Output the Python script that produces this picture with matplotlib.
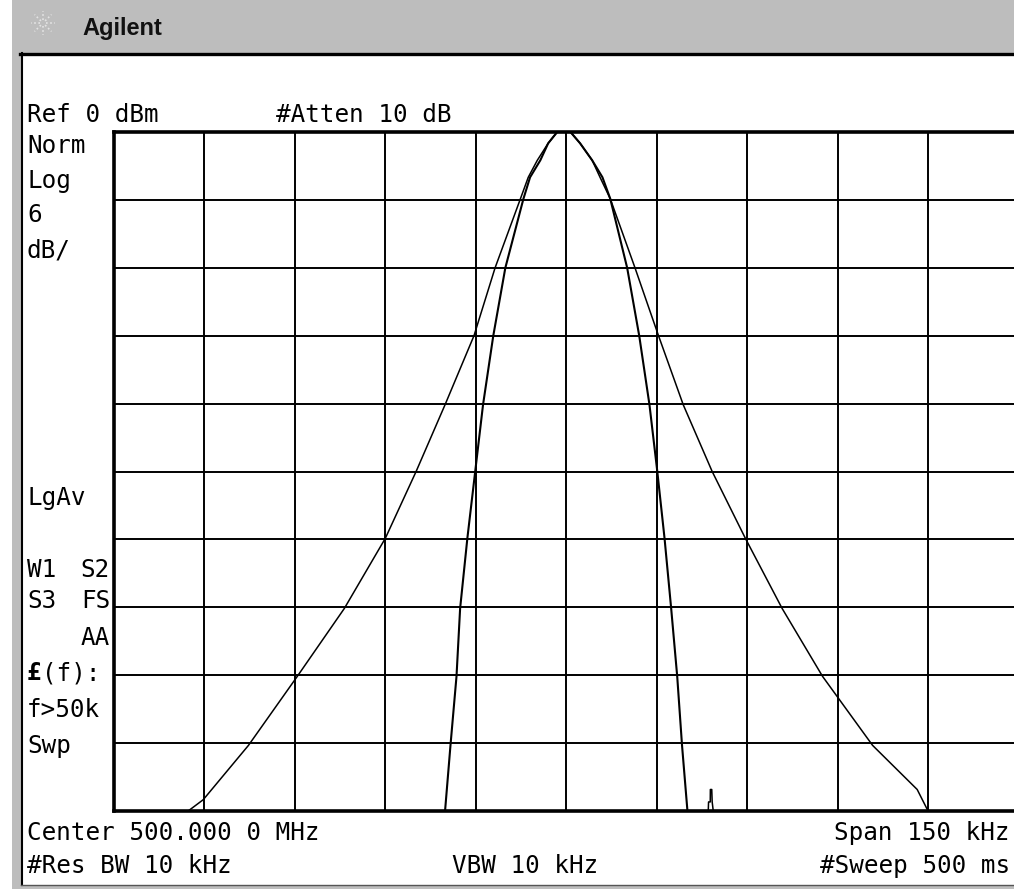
import numpy as np
import matplotlib.pyplot as plt
from matplotlib.patches import Rectangle
from matplotlib.lines import Line2D

# screen size of the capture, in pixels
W, H = 1014, 892

# analyzer settings
ref_dbm = 0
db_per_div = 6
span_khz = 150
n_div = 10

# wide trace: offset from center (kHz) and level (dB)
wide_khz = [-62.7, -60.2, -52.7, -44.6, -36.8, -30.0, -24.9, -20.1, -15.3, -11.8,
            -7.6, -6.3, -4.8, -3.0, -1.5, 0.7, 2.3, 4.3, 5.6, 7.3, 11.4, 13.8,
            15.3, 19.4, 24.2, 29.7, 35.8, 42.5, 50.8, 58.2, 60.0]
wide_db = [-60.0, -59.0, -54.2, -48.1, -42.1, -35.9, -30.0, -24.1, -18.0, -12.0,
           -5.9, -4.0, -2.5, -1.0, 0.0, 0.0, -1.0, -2.5, -4.0, -5.9, -12.0, -15.7,
           -18.0, -24.1, -30.0, -35.9, -42.1, -48.1, -54.2, -58.1, -60.0]

# narrow trace
narrow_khz = [-20.1, -19.2, -18.2, -17.6, -16.4, -15.1, -13.8, -12.1, -10.1, -7.1,
              -6.0, -4.3, -3.0, -1.5, 0.7, 2.3, 4.3, 6.0, 7.3, 10.1, 12.1, 13.8,
              15.1, 16.3, 17.4, 18.4, 19.2, 20.1]
narrow_db = [-60.0, -54.2, -48.1, -42.1, -35.9, -30.0, -24.1, -18.0, -12.0, -5.9,
             -4.0, -2.5, -1.0, 0.0, 0.0, -1.0, -2.5, -4.0, -5.9, -12.0, -18.0, -24.1,
             -30.0, -35.9, -42.1, -48.1, -54.2, -60.0]

# small spur right of the narrow trace
spur_khz = [23.55, 23.6, 23.88, 23.9, 24.13, 24.2, 24.38]
spur_db = [-60.0, -59.2, -59.2, -58.1, -58.1, -59.2, -60.0]

MONO = 'DejaVu Sans Mono'
FS = 17.5


def fx(x):
    return x / W


def fy(y):
    return 1 - y / H


def screen_text(x, y, s, ha='left', **kw):
    fig.text(fx(x), fy(y), s, ha=ha, va='baseline', family=MONO,
             fontsize=kw.pop('fontsize', FS), color='black', **kw)


fig = plt.figure(figsize=(W / 100, H / 100), dpi=100)
fig.patch.set_facecolor('white')

# gray window frame and title bar
fig.add_artist(Rectangle((fx(12), fy(889)), fx(W - 12), 889 / H,
                         transform=fig.transFigure, facecolor='#bdbdbd', edgecolor='none', zorder=0))
fig.add_artist(Rectangle((fx(21), fy(885)), fx(W - 21), (885 - 53) / H,
                         transform=fig.transFigure, facecolor='white', edgecolor='none', zorder=0))
fig.add_artist(Line2D([fx(20), fx(W)], [fy(53.5), fy(53.5)], transform=fig.transFigure,
                      color='black', lw=2.4))
fig.add_artist(Line2D([fx(21.5), fx(21.5)], [fy(53), fy(885)], transform=fig.transFigure,
                      color='black', lw=1.5))
fig.add_artist(Line2D([fx(21), fx(W)], [fy(885), fy(885)], transform=fig.transFigure,
                      color='#555555', lw=1.0))

# logo: faint starburst
cx, cy, r = 43, 23, 12
for a in np.arange(0, 360, 45):
    t = np.deg2rad(a)
    fig.add_artist(Line2D([fx(cx + 3 * np.cos(t)), fx(cx + r * np.cos(t))],
                          [fy(cy + 3 * np.sin(t)), fy(cy + r * np.sin(t))],
                          transform=fig.transFigure, color='#e4e4e4', lw=1.2,
                          linestyle=(0, (1, 1.5))))
fig.text(fx(82), fy(35), 'Agilent', ha='left', va='baseline', family='Liberation Sans',
         fontweight='bold', fontsize=17, color='#111111')

# graticule
ax = fig.add_axes([fx(114), fy(811), (1018.5 - 114) / W, (811 - 132) / H])
half = span_khz / 2
ax.set_xlim(-half, half)
ax.set_ylim(ref_dbm - n_div * db_per_div, ref_dbm)
ax.set_xticks(np.linspace(-half, half, n_div + 1))
ax.set_yticks(np.linspace(ref_dbm - n_div * db_per_div, ref_dbm, n_div + 1))
ax.tick_params(length=0, labelbottom=False, labelleft=False)
ax.grid(True, color='black', lw=1.4)
ax.set_axisbelow(True)
for sp in ax.spines.values():
    sp.set_linewidth(2.6)
    sp.set_color('black')

ax.plot(wide_khz, wide_db, color='black', lw=1.1)
ax.plot(narrow_khz, narrow_db, color='black', lw=1.5)
ax.plot(spur_khz, spur_db, color='black', lw=1.1)

# annotations around the graticule
screen_text(27, 122, 'Ref 0 dBm')
screen_text(276, 122, '#Atten 10 dB')
for txt, yb in zip(['Norm', 'Log', '6', 'dB/'], [153, 188, 222, 258]):
    screen_text(27, yb, txt)
screen_text(27, 505, 'LgAv')
screen_text(27, 577, 'W1')
screen_text(110, 577, 'S2', ha='right')
screen_text(27, 608, 'S3')
screen_text(110, 608, 'FS', ha='right')
screen_text(110, 645, 'AA', ha='right')
screen_text(27, 680, '£', fontweight='bold')
screen_text(42, 680, '(f):')
screen_text(27, 717, 'f>50k')
screen_text(27, 753, 'Swp')

screen_text(27, 840, 'Center 500.000 0 MHz')
screen_text(1010, 840, 'Span 150 kHz', ha='right')
screen_text(27, 873, '#Res BW 10 kHz')
screen_text(452, 873, 'VBW 10 kHz')
screen_text(1010, 873, '#Sweep 500 ms', ha='right')

fig.savefig('out.png', dpi=100)
